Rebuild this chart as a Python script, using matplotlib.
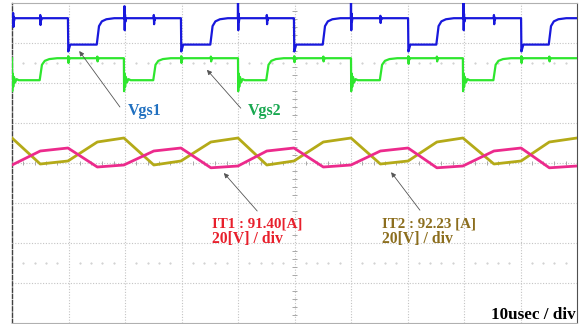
import numpy as np
import matplotlib.pyplot as plt

# scope screen: 10 us/div over 10 div, 8 vertical div, values in div (0 = centre line)
vgs1_fall = [9.9, 29.9, 49.9, 70.1, 90.1]
vgs1_rise = [15.1, 35.2, 55.1, 75.2, 95.1]
vgs1_level = [3.62, 2.96]   # high, low

vgs2_fall = [0.0, 19.8, 40.0, 60.0, 79.8]
vgs2_rise = [5.0, 25.1, 45.1, 65.2, 85.3]
vgs2_level = [2.62, 2.07]

# switching spikes: (time, peak up, peak down)
vgs1_spikes = [(0.2, 0.13, -0.22), (5.0, 0.08, -0.17), (19.9, 0.30, -0.30),
               (25.1, 0.08, -0.15), (40.0, 0.38, -0.30), (45.1, 0.08, -0.15),
               (60.0, 0.38, -0.30), (65.2, 0.06, -0.12), (79.9, 0.38, -0.30),
               (85.3, 0.08, -0.15)]
vgs2_spikes = [(9.95, 0.05, -0.12), (15.1, 0.04, -0.08), (29.95, 0.05, -0.12),
               (35.2, 0.04, -0.08), (49.95, 0.05, -0.10), (55.1, 0.04, -0.08),
               (70.15, 0.05, -0.14), (75.2, 0.04, -0.08), (90.15, 0.05, -0.12),
               (95.1, 0.04, -0.08)]

# transformer currents (vertices of the trapezoids)
it_time = [0.0, 5.0, 9.9, 15.1, 19.8, 25.1, 29.9, 35.2, 40.0, 45.1, 49.9,
           55.1, 60.0, 65.2, 70.1, 75.2, 79.8, 85.3, 90.1, 95.1, 100.0]
it1 = [-0.05, 0.30, 0.375, -0.10, -0.05, 0.30, 0.375, -0.12, -0.075, 0.30, 0.375,
       -0.10, -0.05, 0.30, 0.375, -0.12, -0.075, 0.30, 0.375, -0.12, -0.075]
it2 = [0.625, -0.025, 0.05, 0.525, 0.625, -0.05, 0.05, 0.525, 0.625, -0.05, 0.05,
       0.525, 0.625, -0.025, 0.05, 0.525, 0.625, -0.025, 0.05, 0.525, 0.625]

# edge profiles: (dt, fraction of swing)
rise_shape = [(-0.1, 0.0), (0.3, 0.7), (0.8, 0.88), (1.6, 0.96), (3.0, 1.0)]
fall_shape_1 = [(0.0, 1.0), (0.06, -0.26), (0.4, 0.0)]
fall_shape_2 = [(0.0, 1.0), (0.04, -0.5), (0.12, 0.3), (0.22, -0.3),
                (0.35, 0.15), (0.55, -0.1), (0.8, 0.05), (1.2, 0.0)]


def gate_trace(fall, rise, level, fall_shape, spikes):
    hi, lo = level
    edges = sorted([(t, 'f') for t in fall] + [(t, 'r') for t in rise])
    first = lo if edges[0][1] == 'r' else hi
    pts = [(0.0, first)]
    for t, kind in edges:
        shape = fall_shape if kind == 'f' else rise_shape
        pts += [(t + dt, lo + f * (hi - lo)) for dt, f in shape]

    def base(t):
        state = first
        for te, kind in edges:
            if te <= t:
                state = hi if kind == 'r' else lo
        return state

    for t, up, dn in spikes:
        b = base(t)
        pts += [(t - 0.03, b), (t, b + up), (t + 0.05, b + dn),
                (t + 0.1, b + up * 0.3), (t + 0.16, b + dn * 0.3), (t + 0.25, b)]
    pts.append((100.0, base(100.0)))
    pts.sort(key=lambda p: p[0])
    arr = np.array(pts)
    return arr[:, 0], arr[:, 1]


fig = plt.figure(figsize=(5.8, 3.24), dpi=100)
ax = fig.add_axes([12 / 580, 1 / 324, 565 / 580, 320 / 324])
ax.set_xlim(0, 100)
ax.set_ylim(-4, 4)
ax.set_xticks([])
ax.set_yticks([])

grid_kw = dict(color='#c4c4c4', lw=0.8, ls=(0, (1, 1.5)), zorder=1)
for x in range(10, 100, 10):
    ax.axvline(x, **grid_kw)
for y in range(-3, 4):
    ax.axhline(y, **grid_kw)

# minor ticks on the centre cross
tick_x = [t for t in np.arange(2, 100, 2) if t % 10]
tick_y = [v for v in np.arange(-3.8, 4, 0.2) if abs(v - round(v)) > 1e-6]
ax.vlines(tick_x, -0.05, 0.05, color='#a8a8a8', lw=0.7, zorder=1)
ax.hlines(tick_y, 49.6, 50.4, color='#a8a8a8', lw=0.7, zorder=1)
for yy in (2.5, -2.5):
    ax.plot(tick_x, [yy] * len(tick_x), ls='none', marker='.', ms=1.0,
            color='#c8c8c8', zorder=1)

for side in ('top', 'bottom', 'right'):
    ax.spines[side].set_color('#b0b0b0')
    ax.spines[side].set_linewidth(0.8)
ax.spines['right'].set_color('#505050')
ax.spines['left'].set_color('#404040')
ax.spines['left'].set_linestyle((0, (3, 1.5)))
ax.spines['left'].set_linewidth(1.0)

t1, v1 = gate_trace(vgs1_fall, vgs1_rise, vgs1_level, fall_shape_1, vgs1_spikes)
t2, v2 = gate_trace(vgs2_fall, vgs2_rise, vgs2_level, fall_shape_2, vgs2_spikes)
ax.plot(t1, v1, color='#1818DC', lw=1.6, zorder=3)
ax.plot(t2, v2, color='#2EE62E', lw=1.6, zorder=3)
ax.plot(it_time, it2, color='#B4AA18', lw=2.0, zorder=3)
ax.plot(it_time, it1, color='#EC2A8C', lw=2.0, zorder=4)

font = dict(family='Liberation Serif', weight='bold')
arrow = dict(arrowstyle='-|>', color='#555555', lw=0.6, mutation_scale=7,
             shrinkA=0, shrinkB=0)

ax.annotate('', xy=(11.9, 2.8), xytext=(19.1, 1.4), arrowprops=arrow, zorder=5)
ax.annotate('', xy=(34.5, 2.33), xytext=(40.5, 1.37), arrowprops=arrow, zorder=5)
ax.annotate('', xy=(37.5, -0.25), xytext=(43.4, -1.2), arrowprops=arrow, zorder=5)
ax.annotate('', xy=(67.1, -0.23), xytext=(72.2, -1.18), arrowprops=arrow, zorder=5)

ax.text(20.5, 1.3, 'Vgs1', color='#2070C0', va='center', fontsize=11.5, **font)
ax.text(41.8, 1.3, 'Vgs2', color='#18A850', va='center', fontsize=11.5, **font)
ax.text(35.4, -1.52, 'IT1 : 91.40[A]', color='#E8202C', va='center', fontsize=10.8, **font)
ax.text(35.4, -1.9, '20[V] / div', color='#E8202C', va='center', fontsize=11.3, **font)
ax.text(65.5, -1.52, 'IT2 : 92.23 [A]', color='#8C6E1E', va='center', fontsize=10.8, **font)
ax.text(65.5, -1.9, '20[V] / div', color='#8C6E1E', va='center', fontsize=11.3, **font)
ax.text(99.8, -3.8, '10usec / div', color='black', ha='right', va='center', fontsize=12.3, **font)

fig.savefig('out.png', dpi=100)
